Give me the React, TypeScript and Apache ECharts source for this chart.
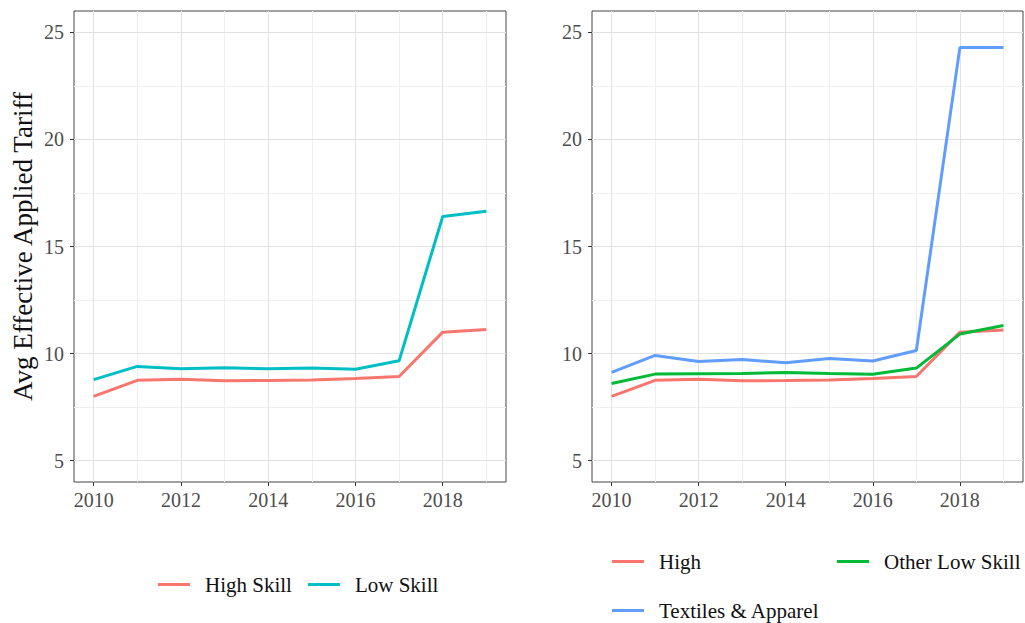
import React, { useEffect, useRef } from "react";
import * as echarts from "echarts";

const years = [2010, 2011, 2012, 2013, 2014, 2015, 2016, 2017, 2018, 2019];
const highSkill = [8.0, 8.75, 8.8, 8.73, 8.74, 8.76, 8.84, 8.93, 11.0, 11.12];
const lowSkill = [8.78, 9.4, 9.29, 9.34, 9.29, 9.32, 9.27, 9.66, 16.4, 16.65];
const high = [8.0, 8.75, 8.8, 8.73, 8.74, 8.76, 8.84, 8.93, 11.0, 11.1];
const otherLowSkill = [8.6, 9.04, 9.06, 9.07, 9.12, 9.07, 9.03, 9.32, 10.91, 11.31];
const textilesApparel = [9.12, 9.91, 9.63, 9.72, 9.57, 9.77, 9.65, 10.14, 24.29, 24.29];

const xTicks = [2010, 2012, 2014, 2016, 2018];
const xMinor = [2011, 2013, 2015, 2017, 2019];
const yTicks = [5, 10, 15, 20, 25];
const yMinor = [7.5, 12.5, 17.5, 22.5];

const FONT = "Liberation Serif";
const C_HIGH = "#F8766D";
const C_LOW = "#00BFC4";
const C_OTHER = "#00BA38";
const C_TEX = "#619CFF";

const pair = (vals: number[]) => years.map((y, i) => [y, vals[i]]);

function gridSeries(idx: number) {
  const major = { color: "#e2e2e2", width: 1, type: "solid" };
  const minor = { color: "#efefef", width: 1, type: "solid" };
  return {
    type: "line",
    xAxisIndex: idx,
    yAxisIndex: idx,
    data: [],
    z: 1,
    silent: true,
    markLine: {
      silent: true,
      symbol: ["none", "none"],
      label: { show: false },
      z: 1,
      animation: false,
      data: [
        ...xMinor.map((v) => ({ xAxis: v, lineStyle: minor })),
        ...yMinor.map((v) => ({ yAxis: v, lineStyle: minor })),
        ...xTicks.map((v) => ({ xAxis: v, lineStyle: major })),
        ...yTicks.map((v) => ({ yAxis: v, lineStyle: major })),
      ],
    },
  };
}

function dataSeries(name: string, vals: number[], color: string, idx: number) {
  return {
    type: "line",
    name,
    xAxisIndex: idx,
    yAxisIndex: idx,
    data: pair(vals),
    symbol: "none",
    z: 10,
    color,
    lineStyle: { color, width: 3 },
  };
}

function xAxis(idx: number) {
  return {
    type: "value",
    gridIndex: idx,
    min: 2009.55,
    max: 2019.45,
    axisLine: { show: false },
    splitLine: { show: false },
    axisTick: {
      show: true,
      length: 4,
      customValues: xTicks,
      lineStyle: { color: "#333", width: 1 },
    },
    axisLabel: {
      customValues: xTicks,
      formatter: (v: number) => String(v),
      fontFamily: FONT,
      fontSize: 20,
      color: "#4d4d4d",
      margin: 8,
    },
  };
}

function yAxis(idx: number, title?: string) {
  return {
    type: "value",
    gridIndex: idx,
    min: 4,
    max: 26,
    axisLine: { show: false },
    splitLine: { show: false },
    axisTick: {
      show: true,
      length: 4,
      customValues: yTicks,
      lineStyle: { color: "#333", width: 1 },
    },
    axisLabel: {
      customValues: yTicks,
      formatter: (v: number) => String(v),
      fontFamily: FONT,
      fontSize: 20,
      color: "#4d4d4d",
      margin: 10,
    },
    ...(title
      ? {
          name: title,
          nameLocation: "middle",
          nameRotate: 90,
          nameGap: 38,
          nameTextStyle: { fontFamily: FONT, fontSize: 27, color: "#111" },
        }
      : {}),
  };
}

function legend(names: string[], left: number, top: number, gap = 16) {
  return {
    data: names,
    left,
    top,
    orient: "horizontal",
    padding: 0,
    itemGap: gap,
    icon: "rect",
    itemWidth: 32,
    itemHeight: 3,
    selectedMode: false,
    textStyle: {
      fontFamily: FONT,
      fontSize: 21,
      color: "#111",
      padding: [0, 0, 0, 10],
    },
  };
}

export default function App() {
  const ref = useRef<HTMLDivElement>(null);
  useEffect(() => {
    if (!ref.current) return;
    const chart = echarts.init(ref.current, undefined, { renderer: "svg" });
    chart.setOption({
      animation: false,
      backgroundColor: "#ffffff",
      textStyle: { fontFamily: FONT },
      grid: [
        { left: 74, top: 11, width: 432, height: 471, show: true, borderColor: "#444", borderWidth: 1, backgroundColor: "transparent" },
        { left: 592, top: 11, width: 431, height: 471, show: true, borderColor: "#444", borderWidth: 1, backgroundColor: "transparent" },
      ],
      xAxis: [xAxis(0), xAxis(1)],
      yAxis: [yAxis(0, "Avg Effective Applied Tariff"), yAxis(1)],
      legend: [
        legend(["High Skill", "Low Skill"], 158, 574),
        legend(["High"], 612, 551),
        legend(["Other Low Skill"], 837, 551),
        legend(["Textiles & Apparel"], 612, 600),
      ],
      series: [
        gridSeries(0),
        gridSeries(1),
        dataSeries("High Skill", highSkill, C_HIGH, 0),
        dataSeries("Low Skill", lowSkill, C_LOW, 0),
        dataSeries("High", high, C_HIGH, 1),
        dataSeries("Other Low Skill", otherLowSkill, C_OTHER, 1),
        dataSeries("Textiles & Apparel", textilesApparel, C_TEX, 1),
      ],
    });
    return () => chart.dispose();
  }, []);
  return (
    <div
      ref={ref}
      style={{ position: "fixed", left: 0, top: 0, width: 1025, height: 623, background: "#fff" }}
    />
  );
}
